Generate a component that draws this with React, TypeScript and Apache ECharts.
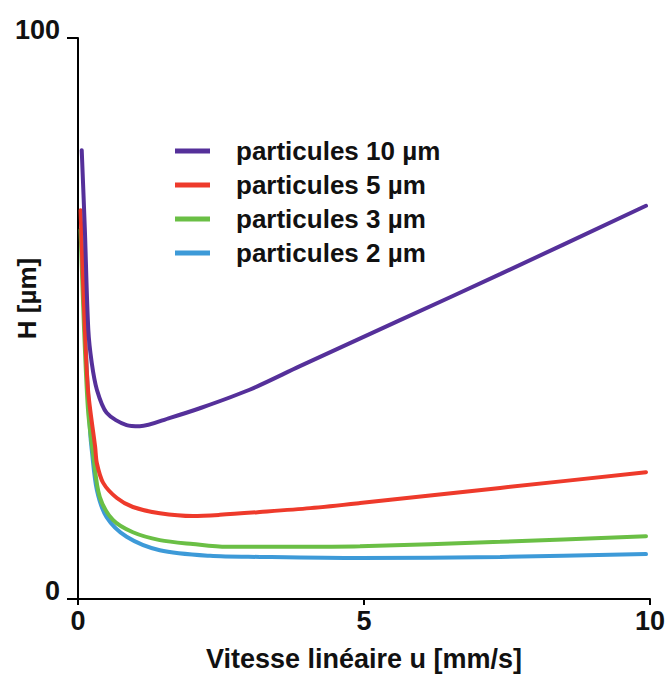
import React, { useEffect, useRef } from "react";
import * as echarts from "echarts";

const seriesNames = ["particules 10 µm", "particules 5 µm", "particules 3 µm", "particules 2 µm"];
const colors = ["#55309a", "#ee3a2b", "#6abf45", "#3d9ad8"];

const p10: [number, number][] = [
  [0.065, 80.0], [0.12, 65.8], [0.18, 48.0], [0.24, 42.1], [0.33, 37.3], [0.5, 33.2],
  [0.85, 31.0], [1.08, 30.8], [1.61, 32.3], [2.13, 34.0], [3.0, 37.3], [3.88, 41.5],
  [5.63, 49.7], [7.38, 57.9], [9.93, 70.1],
];
const p5: [number, number][] = [
  [0.045, 69.3], [0.1, 53.3], [0.175, 37.3], [0.3, 27.1], [0.33, 24.2], [0.44, 20.7],
  [0.68, 18.0], [0.96, 16.4], [1.43, 15.3], [2.01, 14.8], [2.48, 15.0], [3.18, 15.5],
  [4.06, 16.2], [4.93, 17.1], [7.38, 19.8], [9.93, 22.6],
];
const p3: [number, number][] = [
  [0.045, 65.8], [0.1, 49.7], [0.175, 33.7], [0.27, 25.3], [0.38, 18.2], [0.61, 14.1],
  [0.96, 11.9], [1.43, 10.5], [2.01, 9.8], [2.6, 9.3], [3.76, 9.3], [4.93, 9.4],
  [7.38, 10.2], [9.93, 11.2],
];
const p2: [number, number][] = [
  [0.06, 64.5], [0.12, 48.0], [0.21, 30.1], [0.24, 26.6], [0.33, 19.4], [0.5, 14.6],
  [0.85, 11.1], [1.43, 8.7], [2.31, 7.7], [3.18, 7.5], [4.93, 7.3], [7.38, 7.5], [9.93, 8.0],
];
const allData = [p10, p5, p3, p2];

const xTitle = "Vitesse linéaire u [mm/s]";
const yTitle = "H [µm]";

const font = "'Liberation Sans', Arial, sans-serif";

export default function App() {
  const ref = useRef<HTMLDivElement>(null);
  useEffect(() => {
    if (!ref.current) return;
    const chart = echarts.init(ref.current, null, { renderer: "svg" });
    chart.setOption({
      animation: false,
      backgroundColor: "#ffffff",
      grid: { left: 78, right: 18, top: 38, bottom: 80, containLabel: false, outerBoundsMode: "none" },
      legend: {
        orient: "vertical",
        left: 175,
        top: 138,
        padding: 0,
        itemWidth: 35,
        itemHeight: 5,
        itemGap: 8,
        icon: "rect",
        data: seriesNames,
        textStyle: {
          fontFamily: font,
          fontWeight: "bold",
          fontSize: 26,
          color: "#111",
          padding: [0, 0, 0, 21],
        },
      },
      xAxis: {
        type: "value",
        min: 0,
        max: 10,
        interval: 5,
        name: xTitle,
        nameLocation: "middle",
        nameGap: 46,
        nameMoveOverlap: false,
        nameTextStyle: { fontFamily: font, fontWeight: "bold", fontSize: 27, color: "#111" },
        axisLine: { show: true, lineStyle: { color: "#000", width: 2 } },
        axisTick: { show: true, length: 6, lineStyle: { color: "#000", width: 2 } },
        axisLabel: { fontFamily: font, fontWeight: "bold", fontSize: 27, color: "#111", margin: 8 },
        splitLine: { show: false },
      },
      yAxis: {
        type: "value",
        min: 0,
        max: 100,
        interval: 100,
        name: yTitle,
        nameLocation: "middle",
        nameGap: 38,
        nameMoveOverlap: false,
        nameTextStyle: {
          fontFamily: font,
          fontWeight: "bold",
          fontSize: 26,
          color: "#111",
          padding: [0, 0, 0, 40],
        },
        axisLine: { show: true, lineStyle: { color: "#000", width: 2 } },
        axisTick: { show: true, length: 11, lineStyle: { color: "#000", width: 2 } },
        axisLabel: {
          fontFamily: font,
          fontWeight: "bold",
          fontSize: 27,
          color: "#111",
          margin: 18,
          verticalAlign: "bottom",
          lineHeight: 16,
        },
        splitLine: { show: false },
      },
      series: allData.map((d, i) => ({
        name: seriesNames[i],
        type: "line",
        data: d,
        smooth: 0.3,
        symbol: "none",
        color: colors[i],
        lineStyle: { color: colors[i], width: 4, cap: "round" },
        z: 10 - i,
      })),
    });
    return () => chart.dispose();
  }, []);
  return (
    <div
      ref={ref}
      style={{ position: "fixed", left: 0, top: 0, width: 668, height: 679 }}
    />
  );
}
